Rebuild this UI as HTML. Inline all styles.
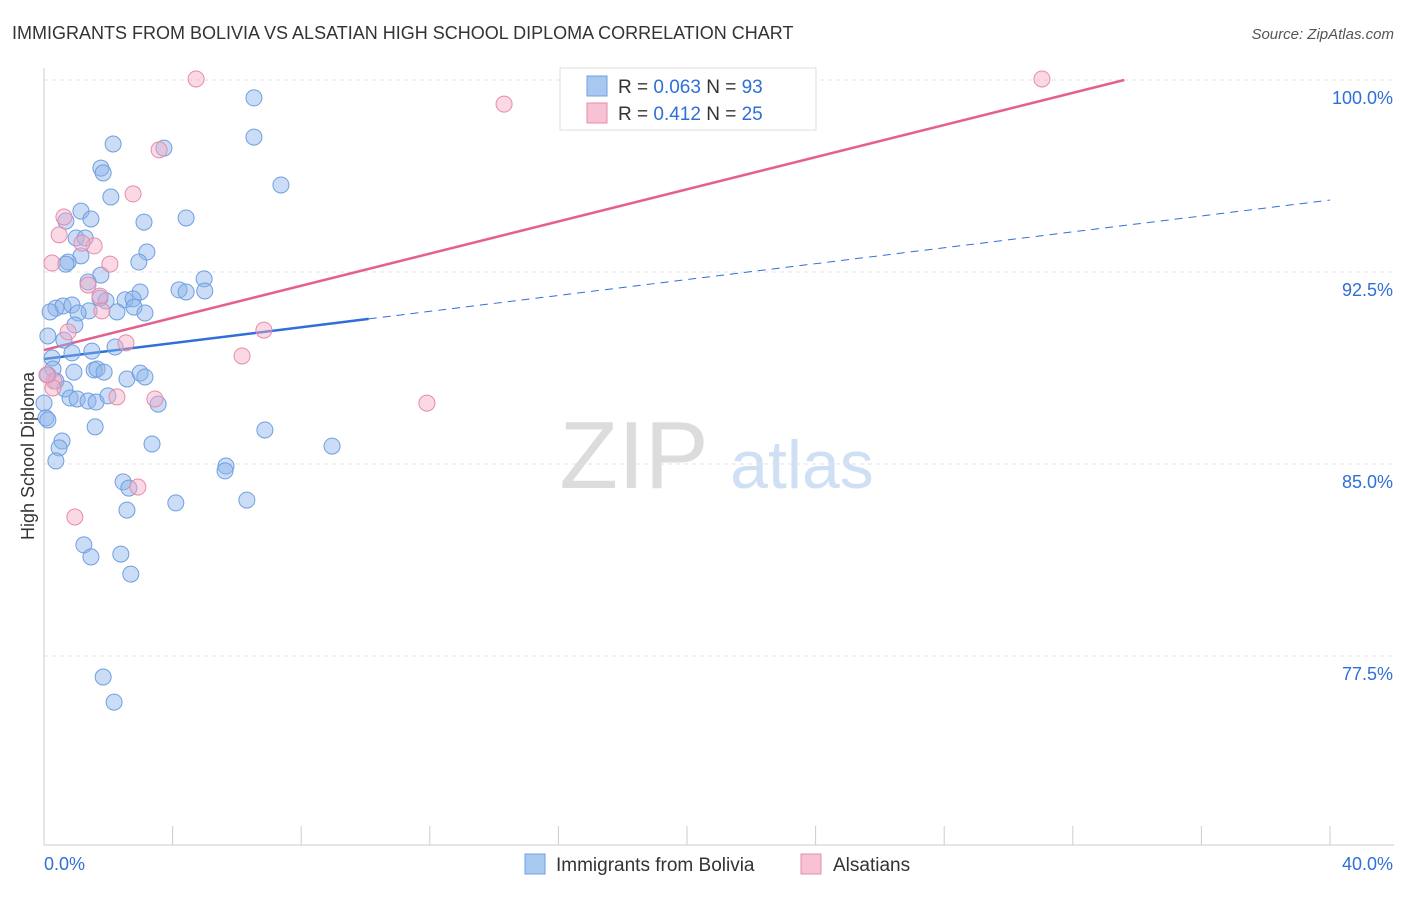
<!DOCTYPE html>
<html><head><meta charset="utf-8"><style>
body{margin:0;background:#fff;font-family:"Liberation Sans",sans-serif;}
svg text{font-family:"Liberation Sans",sans-serif;}
</style></head><body>
<svg id="chart" width="1406" height="892" xmlns="http://www.w3.org/2000/svg">
<text x="12" y="39" font-size="18" fill="#333">IMMIGRANTS FROM BOLIVIA VS ALSATIAN HIGH SCHOOL DIPLOMA CORRELATION CHART</text>
<text x="1394" y="39" font-size="15" fill="#555" text-anchor="end" font-style="italic">Source: ZipAtlas.com</text>
<g>
<text x="634" y="488" font-size="96" fill="#dcdcdc" text-anchor="middle" font-family="Liberation Serif,serif">ZIP</text>
<text x="802" y="488" font-size="68" fill="#cfe0f5" text-anchor="middle">atlas</text>
</g>
<g id="grid"></g>
<g id="axes"></g>
<g id="lines"></g>
<g id="points"></g>
<text transform="translate(34,456) rotate(-90)" font-size="18" fill="#333" text-anchor="middle">High School Diploma</text>
<g>
<rect x="560" y="68" width="256" height="62" fill="#fff" stroke="#ddd"/>
<rect x="587" y="76" width="20" height="20" fill="#a9c8f0" stroke="#6f9fe0"/>
<text x="618" y="93" font-size="19" fill="#333">R = <tspan fill="#2f6fd6">0.063</tspan>   N = <tspan fill="#2f6fd6">93</tspan></text>
<rect x="587" y="103" width="20" height="20" fill="#f7c2d4" stroke="#e88aaa"/>
<text x="618" y="120" font-size="19" fill="#333">R =  <tspan fill="#2f6fd6">0.412</tspan>   N = <tspan fill="#2f6fd6">25</tspan></text>
</g>
<g>
<rect x="525" y="854" width="20" height="20" fill="#a9c8f0" stroke="#6f9fe0"/>
<text x="556" y="871" font-size="19" fill="#333">Immigrants from Bolivia</text>
<rect x="801" y="854" width="20" height="20" fill="#f7c2d4" stroke="#e88aaa"/>
<text x="833" y="871" font-size="19" fill="#333">Alsatians</text>
</g>
</svg>
<script>
const yTicks=[100,92.5,85,77.5];
const yTickLabels=["100.0%","92.5%","85.0%","77.5%"];
const xTickLabels=["0.0%","40.0%"];
const blueX=[2.15,6.53,6.53,3.73,1.77,1.84,2.08,7.37,1.15,1.46,3.11,4.42,0.68,1.0,1.28,3.2,1.15,0.75,0.68,2.95,4.98,1.77,1.37,4.2,4.42,5.0,2.99,0.37,0.59,0.87,1.4,1.74,1.93,2.52,2.77,2.8,3.14,2.27,1.06,0.96,0.19,0.12,0.62,1.49,2.21,0.87,0.25,0.28,0.12,0.93,1.56,1.65,1.87,2.58,2.99,3.14,0.37,0.65,0.81,1.03,1.37,1.62,1.99,3.55,0.0,0.06,1.59,3.36,6.87,8.96,0.56,0.47,0.37,5.66,5.63,2.46,2.64,2.58,4.1,6.31,1.24,1.46,2.39,2.7,1.84,2.18,0.12];
const blueY=[97.5,99.3,97.77,97.34,96.56,96.37,95.43,95.9,94.88,94.57,94.45,94.61,94.49,93.83,93.83,93.28,93.13,92.89,92.81,92.89,92.23,92.38,92.11,91.8,91.72,91.76,91.72,91.09,91.17,91.21,90.98,91.48,91.37,91.41,91.45,91.13,90.9,90.94,90.9,90.43,90.94,90.0,89.84,89.41,89.57,89.34,89.14,88.71,88.48,88.59,88.67,88.71,88.59,88.32,88.55,88.4,88.24,87.93,87.58,87.54,87.46,87.42,87.66,87.34,87.38,86.8,86.45,85.78,86.33,85.7,85.9,85.63,85.12,84.92,84.73,84.3,84.06,83.2,83.48,83.59,81.84,81.37,81.48,80.7,76.68,75.7,86.72];
const pinkX=[4.73,31.04,14.31,3.58,2.77,0.62,0.47,1.56,1.18,0.25,2.05,1.37,1.74,1.8,0.75,2.55,6.16,6.84,0.31,0.28,3.45,2.27,11.91,2.92,0.96,0.09];
const pinkY=[100.04,100.04,99.06,97.27,95.55,94.65,93.95,93.52,93.63,92.85,92.81,91.99,91.56,90.98,90.16,89.73,89.22,90.23,88.24,87.97,87.54,87.62,87.38,84.1,82.93,88.48];
const blueTrend=[89.1,95.31];
const pinkTrend=[89.45,100];
const pinkTrendEndX=33.6;
const blueSolidEndX=10.1;

const X0=44,X1=1330,Y0=80;
function sx(v){return X0+(X1-X0)*v/40;}
function sy(v){return Y0+(100-v)*25.6;}
const NS="http://www.w3.org/2000/svg";
function mk(tag,attrs,parent){const e=document.createElementNS(NS,tag);for(const k in attrs)e.setAttribute(k,attrs[k]);parent.appendChild(e);return e;}
const grid=document.getElementById('grid'),axes=document.getElementById('axes'),lines=document.getElementById('lines'),pts=document.getElementById('points');
yTicks.forEach((t,i)=>{
 const l=mk('line',{x1:X0,x2:1394,y1:sy(t),y2:sy(t),stroke:'#e2e2e2','stroke-dasharray':'4,4'},grid);
 
 
 const tx=mk('text',{x:1393,y:sy(t)+24,'font-size':18,fill:'#2f6fd6','text-anchor':'end'},grid);
 tx.textContent=yTickLabels[i];
 
 
});
const ya=mk('line',{x1:X0,x2:X0,y1:68,y2:845,stroke:'#ccc'},axes);


const xa=mk('line',{x1:X0,x2:1394,y1:845,y2:845,stroke:'#ccc'},axes);


for(let i=0;i<=10;i++){
 const t=mk('line',{x1:sx(i*4),x2:sx(i*4),y1:826,y2:845,stroke:'#ccc'},axes);
 
 
}
[[0,'start'],[40,'end']].forEach((p,i)=>{
 const t=mk('text',{x:i?1393:44,y:870,'font-size':18,fill:'#2f6fd6','text-anchor':p[1]},axes);
 t.textContent=xTickLabels[i];
 
 
});
function by(x){return blueTrend[0]+(blueTrend[1]-blueTrend[0])*x/40;}
const b1=mk('line',{x1:sx(0),y1:sy(by(0)),x2:sx(blueSolidEndX),y2:sy(by(blueSolidEndX)),stroke:'#2f6fd6','stroke-width':2.5},lines);


const b2=mk('line',{x1:sx(blueSolidEndX),y1:sy(by(blueSolidEndX)),x2:sx(40),y2:sy(by(40)),stroke:'#2f6fd6','stroke-width':1,'stroke-dasharray':'8,6'},lines);


const p1=mk('line',{x1:sx(0),y1:sy(pinkTrend[0]),x2:sx(pinkTrendEndX),y2:sy(pinkTrend[1]),stroke:'#e0628d','stroke-width':2.5},lines);


blueX.forEach((x,i)=>{
 const c=mk('circle',{cx:sx(x),cy:sy(blueY[i]),r:8,fill:'rgba(140,180,235,0.45)',stroke:'#6f9fe0','stroke-width':1},pts);
 
 
});
pinkX.forEach((x,i)=>{
 const c=mk('circle',{cx:sx(x),cy:sy(pinkY[i]),r:8,fill:'rgba(244,170,196,0.45)',stroke:'#e88aaa','stroke-width':1},pts);
 
 
});
</script>
</body></html>
